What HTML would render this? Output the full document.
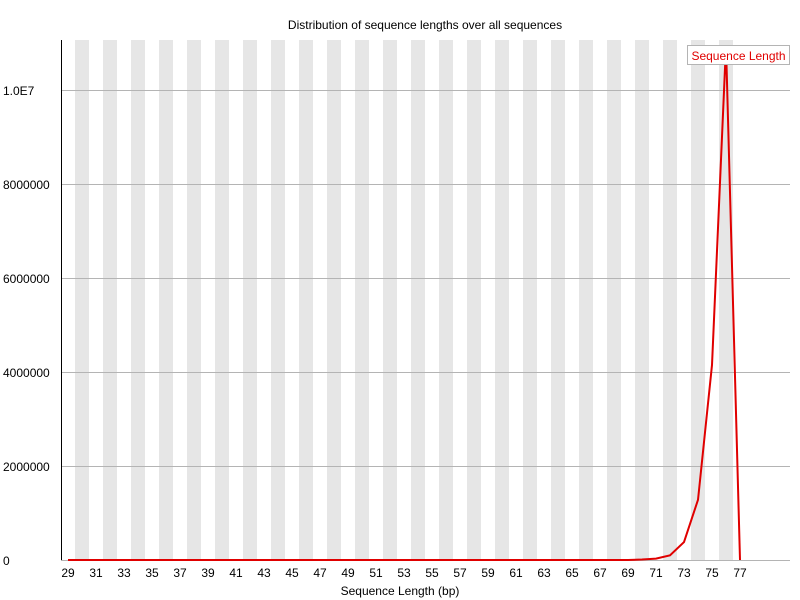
<!DOCTYPE html>
<html><head><meta charset="utf-8"><style>
body{margin:0;background:#fff;}
svg{display:block;font-family:"Liberation Sans",sans-serif;}
</style></head><body>
<svg id="c" width="800" height="600"></svg>
<script>
const categories=[];for(let i=29;i<=77;i++)categories.push(i);
const seriesValues=[0,0,0,0,0,0,0,0,0,0,0,0,0,0,0,0,0,0,0,0,0,0,0,0,0,0,0,0,0,0,0,0,0,0,0,0,0,0,0,0,0,10000,30000,100000,380000,1280000,4150000,10950000,0];
const yTicks=[0,2000000,4000000,6000000,8000000,10000000];
const yTickLabels=["0","2000000","4000000","6000000","8000000","1.0E7"];
const NS="http://www.w3.org/2000/svg";
const svg=document.getElementById('c');
const L=61,R=790,T=40,B=560,band=14;
const x=i=>L+band*(i+0.5);
const y=v=>B-v*(470/10000000);
function mk(t,a,txt){const e=document.createElementNS(NS,t);for(const k in a)e.setAttribute(k,a[k]);if(txt!==undefined)e.textContent=txt;svg.appendChild(e);return e;}
categories.forEach((c,i)=>{if(i%2===1){const r=mk('rect',{x:L+band*i,y:T,width:band,height:B-T,fill:'#e6e6e6'});

}});
yTicks.forEach((v,i)=>{if(v>0){const g=mk('line',{x1:L,x2:R,y1:y(v)+0.5,y2:y(v)+0.5,stroke:'#b4b4b4','stroke-width':1});

}
const t=mk('text',{x:3,y:y(v)+5,'font-size':12,fill:'#000'},yTickLabels[i]);

});
const ax=mk('line',{x1:L+0.5,x2:L+0.5,y1:T,y2:B,stroke:'#000'});


const bx=mk('line',{x1:L,x2:R,y1:B+0.5,y2:B+0.5,stroke:'#b4b4b4'});


categories.forEach((c,i)=>{if(i%2===0){const t=mk('text',{x:x(i),y:577,'font-size':12,'text-anchor':'middle',fill:'#000'},String(c));

}});
const pts=seriesValues.map((v,i)=>x(i).toFixed(1)+','+y(v).toFixed(1)).join(' ');
const pl=mk('polyline',{points:pts,fill:'none',stroke:'#e00000','stroke-width':2,'stroke-linejoin':'miter'});


const lg=mk('rect',{x:687.5,y:45.5,width:102,height:19,fill:'#fff',stroke:'#b4b4b4'});


const lt=mk('text',{x:738.5,y:60,'font-size':12,'text-anchor':'middle',fill:'#e00000'},'Sequence Length');


const tt=mk('text',{x:425,y:29,'font-size':12,'text-anchor':'middle',fill:'#000'},'Distribution of sequence lengths over all sequences');


const xt=mk('text',{x:400,y:595,'font-size':12,'text-anchor':'middle',fill:'#000'},'Sequence Length (bp)');


</script>
</body></html>
